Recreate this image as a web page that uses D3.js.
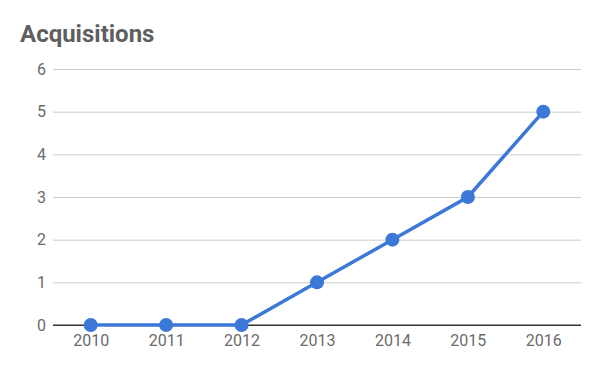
<!DOCTYPE html>
<html><head><meta charset="utf-8">
<script src="https://cdn.jsdelivr.net/npm/d3@7"></script>
<style>body{margin:0;background:#fff}svg{display:block}</style>
</head><body>
<svg id="c" width="600" height="371"></svg>
<script>
const years = ["2010","2011","2012","2013","2014","2015","2016"];
const acquisitions = [0,0,0,1,2,3,5];
const yTicks = [0,1,2,3,4,5,6];

(function(){
const svg = d3.select("#c");
const mL = 53, mR = 581, mT = 69, mB = 325;
const x = d3.scalePoint().domain(years).range([mL,mR]).padding(0.5);
const y = d3.scaleLinear().domain([0,6]).range([mB,mT]);

svg.append("text").attr("x",20).attr("y",42).text("Acquisitions")
  .attr("font-family","Roboto").attr("font-weight","bold").attr("font-size",24).attr("fill","#5f5f5f");

const ya = svg.append("g").attr("transform",`translate(${mL},0)`)
  .call(d3.axisLeft(y).tickValues(yTicks).tickSize(-(mR-mL)).tickPadding(7).tickFormat(d3.format("d")));
ya.select(".domain").remove();
ya.selectAll("line").attr("stroke",d=>d===0?"#333":"#ccc");
ya.selectAll("text").attr("font-family","Roboto").attr("font-size",16).attr("fill","#6b6b6b");

const xa = svg.append("g").attr("transform",`translate(0,${mB})`)
  .call(d3.axisBottom(x).tickSize(0).tickPadding(10));
xa.select(".domain").remove();
xa.selectAll("text").attr("font-family","Roboto").attr("font-size",16).attr("fill","#6b6b6b");

svg.append("line").attr("x1",mL).attr("x2",mR).attr("y1",y(0)).attr("y2",y(0)).attr("stroke","#333");

const data = years.map((yr,i)=>({yr,v:acquisitions[i]}));
svg.append("path").datum(data)
  .attr("d",d3.line().x(d=>x(d.yr)).y(d=>y(d.v)))
  .attr("fill","none").attr("stroke","#3c78d8").attr("stroke-width",3.5);
svg.selectAll("circle.pt").data(data).join("circle").attr("class","pt")
  .attr("cx",d=>x(d.yr)).attr("cy",d=>y(d.v)).attr("r",7).attr("fill","#3c78d8");
})();
</script>
</body></html>
